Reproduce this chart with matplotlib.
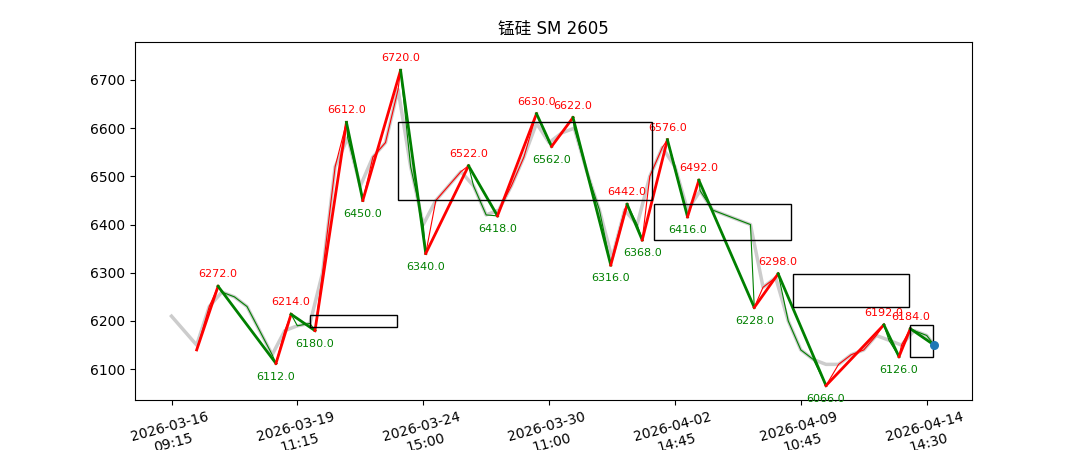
import matplotlib
matplotlib.use("Agg")
import matplotlib.pyplot as plt
from matplotlib.patches import Rectangle

plt.rcParams['font.family'] = ['DejaVu Sans', 'Noto Sans CJK SC']

# gray price path, sampled every 10 bars
price_idx = list(range(0, 610, 10)) + [606]
price_idx = sorted(set(price_idx))
price = [6210, 6180, 6150, 6230, 6260, 6250, 6230, 6180, 6130, 6180,
         6190, 6195, 6300, 6520, 6580, 6480, 6540, 6570, 6680, 6520,
         6400, 6450, 6480, 6510, 6480, 6420, 6430, 6480, 6540, 6610,
         6570, 6590, 6600, 6510, 6430, 6330, 6430, 6400, 6500, 6560,
         6520, 6430, 6470, 6430, 6420, 6410, 6400, 6270, 6290, 6200,
         6140, 6120, 6110, 6110, 6130, 6140, 6170, 6160, 6150, 6180,
         6170, 6150]

# zigzag pivots
piv_idx = [20, 37, 83, 95, 114, 139, 152, 182, 202, 236, 259, 290, 302, 319,
           349, 362, 374, 394, 410, 419, 463, 482, 520, 566, 578, 587, 606]
piv_val = [6140, 6272, 6112, 6214, 6180, 6612, 6450, 6720, 6340, 6522, 6418,
           6630, 6562, 6622, 6316, 6442, 6368, 6576, 6416, 6492, 6228, 6298,
           6066, 6192, 6126, 6184, 6150]

# boxes: (start idx, end idx, low, high)
boxes = [(110, 179, 6188, 6213), (180, 382, 6450, 6612),
         (383, 492, 6368, 6442), (494, 586, 6228, 6298),
         (587, 605, 6126, 6192)]

tick_pos = [0, 100, 200, 300, 400, 500, 600]
tick_lab = ["2026-03-16\n09:15", "2026-03-19\n11:15", "2026-03-24\n15:00",
            "2026-03-30\n11:00", "2026-04-02\n14:45", "2026-04-09\n10:45",
            "2026-04-14\n14:30"]

fig = plt.figure(figsize=(10.8, 4.5), dpi=100)
ax = fig.add_axes([0.125, 0.111, 0.775, 0.796])

ax.plot(price_idx, price, color="#cccccc", lw=2.5, zorder=1)

# thin trend lines following price, coloured by zigzag direction
for k in range(len(piv_idx) - 1):
    a, b = piv_idx[k], piv_idx[k + 1]
    xs = [a] + [i for i in price_idx if a < i < b] + [b]
    ys = [piv_val[k]] + [price[price_idx.index(i)] for i in xs[1:-1]] + [piv_val[k + 1]]
    c = "red" if piv_val[k + 1] > piv_val[k] else "green"
    ax.plot(xs, ys, color=c, lw=0.8, zorder=2)
    ax.plot([a, b], [piv_val[k], piv_val[k + 1]], color=c, lw=2, zorder=3)

for k in range(1, len(piv_idx) - 1):
    v = piv_val[k]
    if v > piv_val[k - 1]:
        ax.annotate(f"{v:.1f}", (piv_idx[k], v), xytext=(0, 5), textcoords="offset points",
                    ha="center", va="bottom", color="red", fontsize=8)
    else:
        ax.annotate(f"{v:.1f}", (piv_idx[k], v), xytext=(0, -6), textcoords="offset points",
                    ha="center", va="top", color="green", fontsize=8)

for x0, x1, lo, hi in boxes:
    ax.add_patch(Rectangle((x0, lo), x1 - x0, hi - lo, fill=False, ec="black", lw=1, zorder=4))

ax.scatter([piv_idx[-1]], [piv_val[-1]], s=30, zorder=5)

ax.set_xlim(-29, 636)
ax.set_ylim(6036, 6779)
ax.set_xticks(tick_pos)
ax.set_xticklabels(tick_lab, rotation=15)
ax.set_title("锰硅 SM 2605")

fig.savefig("out.png")
